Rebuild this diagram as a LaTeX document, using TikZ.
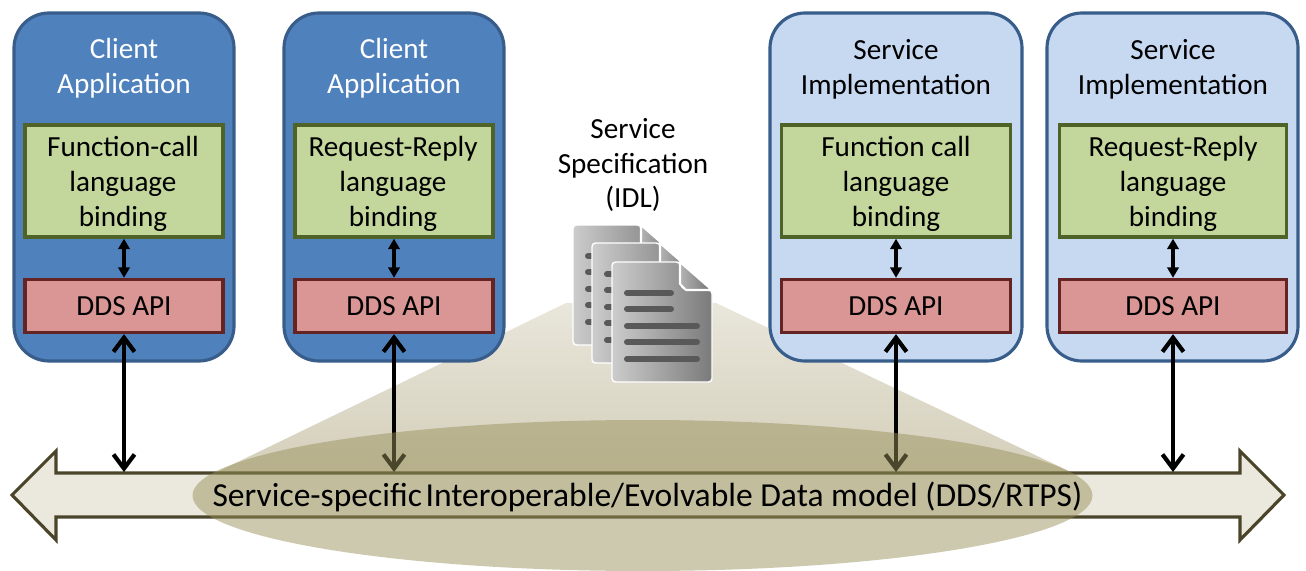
\documentclass[tikz,border=0pt]{standalone}
\usepackage{fontspec}
\setmainfont{Carlito}
\usetikzlibrary{arrows.meta}
\definecolor{clientblue}{HTML}{4F81BD}
\definecolor{clientline}{HTML}{385D8A}
\definecolor{serviceblue}{HTML}{C6D9F1}
\definecolor{bindgreen}{HTML}{C3D69B}
\definecolor{bindline}{HTML}{4F6228}
\definecolor{apired}{HTML}{D99694}
\definecolor{apiline}{HTML}{632423}
\definecolor{busfill}{HTML}{EBE9DD}
\definecolor{busline}{HTML}{4A452A}
\definecolor{conetop}{HTML}{E9E6DB}
\definecolor{conebot}{HTML}{D4CFBA}
\definecolor{cloud}{HTML}{98905A}

\tikzset{
  lab/.style={font=\fontsize{16.6}{19.9}\selectfont, align=center, text=black},
  clientbox/.style={draw=clientline, fill=clientblue, line width=1.8pt, rounded corners=0.7cm},
  servicebox/.style={draw=clientline, fill=serviceblue, line width=1.8pt, rounded corners=0.7cm},
  bindbox/.style={draw=bindline, fill=bindgreen, line width=1.9pt},
  apibox/.style={draw=apiline, fill=apired, line width=1.9pt},
  small/.style={{Triangle[length=6pt,width=6.5pt]}-{Triangle[length=6pt,width=6.5pt]}, line width=1.8pt},
  big/.style={{Straight Barb[length=8pt,width=12pt,line width=2.4pt]}-{Straight Barb[length=8pt,width=12pt,line width=2.4pt]}, line width=2.8pt},
  docpage/.pic={
    \path[left color=black!20, right color=black!52, draw=white, line width=0.8pt, rounded corners=2pt]
      (0,0) -- (68,0) -- (68,22) -- (72,28) -- (100,28) -- (100,120) -- (0,120) -- cycle;
    \path[left color=black!30, right color=black!55, draw=white, line width=1.2pt]
      (68,0) -- (100,28) -- (74,28) -- (68,22) -- cycle;
    \draw[line width=3.4pt, draw=black!65, line cap=round] (15,31) -- (59,31);
    \draw[line width=3.4pt, draw=black!65, line cap=round] (15,47) -- (59,47);
    \draw[line width=3.4pt, draw=black!65, line cap=round] (15,64) -- (85,64);
    \draw[line width=3.4pt, draw=black!65, line cap=round] (15,80) -- (85,80);
    \draw[line width=3.4pt, draw=black!65, line cap=round] (15,97) -- (85,97);
  }
}

\begin{document}
\begin{tikzpicture}[x=0.02cm, y=-0.02cm]
  \useasboundingbox (0,0) rectangle (1306,571);

  % cone below the documents
  \path[top color=conetop, bottom color=conebot]
    (566,303) -- (716,303) -- (1075,474) -- (213,474) -- cycle;

  % the four stacks
  \draw[clientbox] (14,13) rectangle (234,361);
  \draw[clientbox] (284,13) rectangle (504,361);
  \draw[servicebox] (770,13) rectangle (1022,361);
  \draw[servicebox] (1047,13) rectangle (1298,361);

  \node[lab, text=white] (titleA) at (124,68.5) {Client\\Application};
  \node[lab, text=white] (titleB) at (394,68.5) {Client\\Application};
  \node[lab] (titleC) at (896,69.5) {Service\\Implementation};
  \node[lab] (titleD) at (1173,69.5) {Service\\Implementation};

  \node[bindbox, lab, minimum width=3.96cm, minimum height=2.24cm] (bindA) at (124,181) {};
  \node[bindbox, lab, minimum width=3.96cm, minimum height=2.24cm] (bindB) at (394,181) {};
  \node[bindbox, lab, minimum width=4.58cm, minimum height=2.24cm] (bindC) at (896,181) {};
  \node[bindbox, lab, minimum width=4.54cm, minimum height=2.24cm] (bindD) at (1173,181) {};
  \node[lab] (bindtextA) at (123,184) {Function-call\\language\\binding};
  \node[lab] (bindtextB) at (393,184) {Request-Reply\\language\\binding};
  \node[lab] (bindtextC) at (896,184) {Function call\\language\\binding};
  \node[lab] (bindtextD) at (1173,184) {Request-Reply\\language\\binding};

  \node[apibox, lab, minimum width=3.96cm, minimum height=1.06cm] (apiA) at (124,306) {DDS API};
  \node[apibox, lab, minimum width=3.96cm, minimum height=1.06cm] (apiB) at (394,306) {DDS API};
  \node[apibox, lab, minimum width=4.58cm, minimum height=1.06cm] (apiC) at (896,306) {DDS API};
  \node[apibox, lab, minimum width=4.54cm, minimum height=1.06cm] (apiD) at (1173,306) {DDS API};

  \draw[small] (bindA) -- (apiA);
  \draw[small] (bindB) -- (apiB);
  \draw[small] (bindC) -- (apiC);
  \draw[small] (bindD) -- (apiD);

  % the bus
  \draw[draw=busline, fill=busfill, line width=1.8pt, line join=miter]
    (12,495) -- (56,451) -- (56,473) -- (1240,473) -- (1240,451) -- (1284,495)
    -- (1240,540) -- (1240,517) -- (56,517) -- (56,540) -- cycle;

  \coordinate (busA) at (124,472);
  \coordinate (busB) at (394,472);
  \coordinate (busC) at (896,472);
  \coordinate (busD) at (1173,472);
  \draw[big] (apiA) -- (busA);
  \draw[big] (apiB) -- (busB);
  \draw[big] (apiC) -- (busC);
  \draw[big] (apiD) -- (busD);

  % the data model over the arrows
  \fill[cloud, fill opacity=0.486] (642.5,495.5) ellipse (450 and 75.5);

  \node[lab, font=\fontsize{19.1}{23}\selectfont] (modelText) at (647.5,497) {Service-specific\hspace{-0.12em} Interoperable/Evolvable Data model (DDS/RTPS)};

  % the specification
  \node[lab] (specText) at (633,165) {Service\\Specification\\(IDL)};
  \pic at (573,225) {docpage};
  \pic at (592,243) {docpage};
  \pic at (612,262) {docpage};
\end{tikzpicture}
\end{document}
